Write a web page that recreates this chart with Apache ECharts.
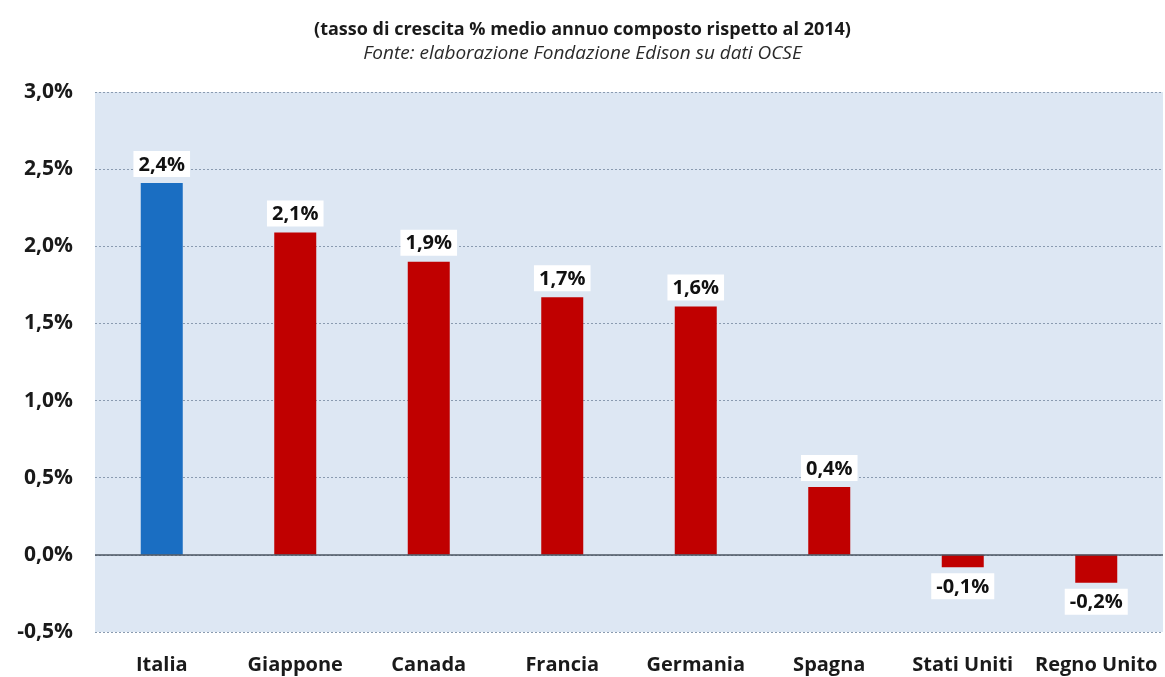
<!DOCTYPE html>
<html><head><meta charset="utf-8">
<script src="https://cdn.jsdelivr.net/npm/echarts@6/dist/echarts.min.js"></script>
<style>html,body{margin:0;padding:0;background:#fff}#c{width:1165px;height:677px}</style>
</head><body><div id="c"></div>
<script>
const categories = ['Italia','Giappone','Canada','Francia','Germania','Spagna','Stati Uniti','Regno Unito'];
const values = [2.41, 2.09, 1.90, 1.67, 1.61, 0.44, -0.08, -0.18];
const barColors = ['#1a6ec2','#c00000','#c00000','#c00000','#c00000','#c00000','#c00000','#c00000'];
const titleText = '(tasso di crescita % medio annuo composto rispetto al 2014)';
const subtitleText = 'Fonte: elaborazione Fondazione Edison su dati OCSE';

const fmt = v => v.toFixed(1).replace('.', ',') + '%';
const FF = 'Open Sans';
const chart = echarts.init(document.getElementById('c'));
chart.setOption({
  animation: false,
  title: {
    text: titleText, subtext: subtitleText, left: 'center', top: 16, itemGap: 5,
    textStyle: {fontFamily: FF, fontWeight: 'bold', fontSize: 18, color: '#1a1a1a'},
    subtextStyle: {fontFamily: FF, fontStyle: 'italic', fontSize: 19, color: '#2a2a2a'}
  },
  grid: {left: 95, right: 2, top: 92, bottom: 45, show: true, backgroundColor: '#dde7f3', borderWidth: 0},
  xAxis: {
    type: 'category', data: categories,
    axisLine: {show: false}, axisTick: {show: false},
    axisLabel: {fontFamily: FF, fontWeight: 'bold', fontSize: 20, color: '#1a1a1a', margin: 23,
      interval: 0, hideOverlap: false}
  },
  yAxis: {
    type: 'value', min: -0.5, max: 3.0, interval: 0.5,
    axisLine: {show: false}, axisTick: {show: false},
    axisLabel: {fontFamily: FF, fontWeight: 'bold', fontSize: 21, color: '#1a1a1a', margin: 22,
      formatter: v => v.toFixed(1).replace('.', ',') + '%'},
    splitLine: {lineStyle: {color: '#8a9bb0', type: [2, 2], width: 1}}
  },
  series: [{
    type: 'bar', barWidth: 42,
    data: values.map((v, i) => ({value: v, itemStyle: {color: barColors[i]},
      label: {position: v >= 0 ? 'top' : 'bottom'}})),
    label: {
      show: true, formatter: p => fmt(p.value), distance: 6,
      fontFamily: FF, fontWeight: 'bold', fontSize: 20, color: '#111',
      backgroundColor: '#ffffff', padding: [4, 5, 2, 5]
    },
    markLine: {
      silent: true, symbol: 'none', label: {show: false},
      lineStyle: {color: '#4a5560', type: 'solid', width: 1.5},
      data: [{yAxis: 0}]
    }
  }]
});
</script></body></html>
